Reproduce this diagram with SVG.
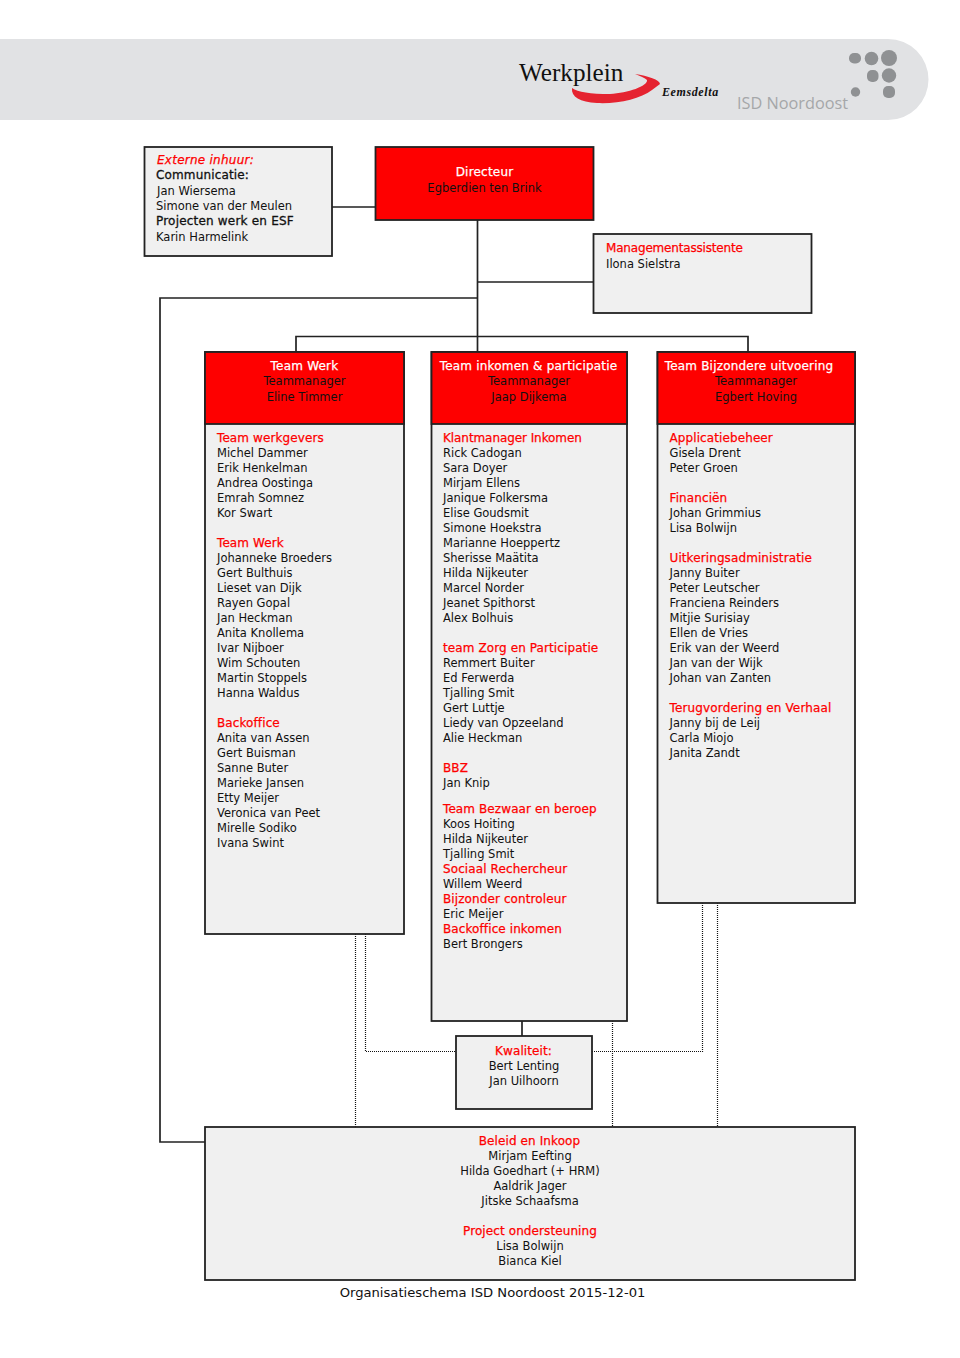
<svg xmlns="http://www.w3.org/2000/svg" width="960" height="1358" viewBox="0 0 960 1358">
<style>
text{font-family:"DejaVu Sans",sans-serif;font-size:11.500px;fill:#111}
.b{fill:#f0f0f0;stroke:#222;stroke-width:1.800}
.r{fill:#fe0000;stroke:#222;stroke-width:1.800}
.h{fill:#fe0000;font-size:12px;letter-spacing:.1px;stroke:#fe0000;stroke-width:.25}
.w{fill:#fff;font-size:12px;letter-spacing:.2px;stroke:#fff;stroke-width:.25}
.k{fill:#111;font-size:12px;letter-spacing:.15px;stroke:#111;stroke-width:.3}
.c{text-anchor:middle}
.l{fill:none;stroke:#222;stroke-width:1.700}
.d{fill:none;stroke:#111;stroke-width:1.200;stroke-dasharray:1 1}
.dot{fill:#8f9193}
</style>
<g id="header">
<path d="M0 39H888a40.500 40.500 0 0 1 0 81H0Z" fill="#e1e2e4"/>
<text x="519" y="81" style="font-family:'Liberation Serif',serif;font-size:25.200px">Werkplein</text>
<path d="M635 74C648 76 660 80 660 84L652 90C640 99 618 104 597 103C580 102 571 97 572 88C578 92 590 94 610 94C628 93 648 86 647 80C645 78 640 76 635 74Z" fill="#e52330"/>
<text x="662" y="96" style="font-family:'Liberation Serif',serif;font-size:12px;font-weight:bold;font-style:italic;letter-spacing:.6px">Eemsdelta</text>
<text x="737" y="109" style="font-family:'Open Sans',sans-serif;font-size:16.300px;fill:#a5a7a9">ISD Noordoost</text>
<rect class="dot" x="849" y="53" width="12" height="10.500" rx="5"/>
<circle class="dot" cx="871.500" cy="58.500" r="6.800"/>
<circle class="dot" cx="889" cy="58" r="8"/>
<rect class="dot" x="867" y="70" width="11.500" height="12" rx="5"/>
<circle class="dot" cx="889" cy="75.500" r="7.200"/>
<circle class="dot" cx="855.500" cy="92" r="4.700"/>
<rect class="dot" x="883" y="86" width="12" height="12" rx="5"/>
</g>
<g id="connectors">
<path class="l" d="M332 207H375M477.500 220V352M477.500 282H593M477.500 298H160V1142H205M296 352V336.500H748V352M522 1021V1036"/>
<path class="d" d="M355.500 934V1127M365.500 934V1051.500H456M592 1051.500H702.500V903M612.500 1021V1127M717.500 903V1127"/>
</g>
<g id="extern">
<rect class="b" x="144.500" y="147" width="187.500" height="109"/>
<text x="157" y="164" style="fill:#fe0000;font-size:12px;font-style:italic;letter-spacing:.25px;stroke:#fe0000;stroke-width:.25">Externe inhuur:</text>
<text x="156" y="179" class="k">Communicatie:</text>
<text x="157" y="195">Jan Wiersema</text>
<text x="156" y="210">Simone van der Meulen</text>
<text x="156" y="225" class="k" style="letter-spacing:.2px">Projecten werk en ESF</text>
<text x="156" y="241">Karin Harmelink</text>
</g>
<g id="directeur">
<rect class="r" x="375.500" y="147" width="218" height="73"/>
<text x="484.500" y="176" class="w c">Directeur</text>
<text x="484.500" y="192" class="c">Egberdien ten Brink</text>
</g>
<g id="assistent">
<rect class="b" x="593.500" y="234" width="218" height="79"/>
<text x="606" y="252" class="h" textLength="137">Managementassistente</text>
<text x="606" y="268">Ilona Sielstra</text>
</g>
<g id="team-werk">
<rect class="b" x="205" y="352" width="199" height="582"/>
<rect class="r" x="205" y="352" width="199" height="72"/>
<text x="304.500" y="370" class="w c">Team Werk</text>
<text x="304.500" y="385" class="c">Teammanager</text>
<text x="304.500" y="401" class="c">Eline Timmer</text>
<text x="217" y="442" class="h">Team werkgevers</text>
<text x="217" y="457">Michel Dammer</text>
<text x="217" y="472">Erik Henkelman</text>
<text x="217" y="487">Andrea Oostinga</text>
<text x="217" y="502">Emrah Somnez</text>
<text x="217" y="517">Kor Swart</text>
<text x="217" y="547" class="h">Team Werk</text>
<text x="217" y="562">Johanneke Broeders</text>
<text x="217" y="577">Gert Bulthuis</text>
<text x="217" y="592">Lieset van Dijk</text>
<text x="217" y="607">Rayen Gopal</text>
<text x="217" y="622">Jan Heckman</text>
<text x="217" y="637">Anita Knollema</text>
<text x="217" y="652">Ivar Nijboer</text>
<text x="217" y="667">Wim Schouten</text>
<text x="217" y="682">Martin Stoppels</text>
<text x="217" y="697">Hanna Waldus</text>
<text x="217" y="727" class="h">Backoffice</text>
<text x="217" y="742">Anita van Assen</text>
<text x="217" y="757">Gert Buisman</text>
<text x="217" y="772">Sanne Buter</text>
<text x="217" y="787">Marieke Jansen</text>
<text x="217" y="802">Etty Meijer</text>
<text x="217" y="817">Veronica van Peet</text>
<text x="217" y="832">Mirelle Sodiko</text>
<text x="217" y="847">Ivana Swint</text>
</g>
<g id="team-inkomen">
<rect class="b" x="431.500" y="352" width="195.500" height="669"/>
<rect class="r" x="431.500" y="352" width="195.500" height="72"/>
<text x="528.500" y="370" class="w c">Team inkomen &amp; participatie</text>
<text x="529" y="385" class="c">Teammanager</text>
<text x="529" y="401" class="c">Jaap Dijkema</text>
<text x="443" y="442" class="h" textLength="139">Klantmanager Inkomen</text>
<text x="443" y="457">Rick Cadogan</text>
<text x="443" y="472">Sara Doyer</text>
<text x="443" y="487">Mirjam Ellens</text>
<text x="443" y="502">Janique Folkersma</text>
<text x="443" y="517">Elise Goudsmit</text>
<text x="443" y="532">Simone Hoekstra</text>
<text x="443" y="547">Marianne Hoeppertz</text>
<text x="443" y="562">Sherisse Maätita</text>
<text x="443" y="577">Hilda Nijkeuter</text>
<text x="443" y="592">Marcel Norder</text>
<text x="443" y="607">Jeanet Spithorst</text>
<text x="443" y="622">Alex Bolhuis</text>
<text x="443" y="652" class="h">team Zorg en Participatie</text>
<text x="443" y="667">Remmert Buiter</text>
<text x="443" y="682">Ed Ferwerda</text>
<text x="443" y="697">Tjalling Smit</text>
<text x="443" y="712">Gert Luttje</text>
<text x="443" y="727">Liedy van Opzeeland</text>
<text x="443" y="742">Alie Heckman</text>
<text x="443" y="772" class="h">BBZ</text>
<text x="443" y="787">Jan Knip</text>
<text x="443" y="813" class="h">Team Bezwaar en beroep</text>
<text x="443" y="828">Koos Hoiting</text>
<text x="443" y="843">Hilda Nijkeuter</text>
<text x="443" y="858">Tjalling Smit</text>
<text x="443" y="873" class="h">Sociaal Rechercheur</text>
<text x="443" y="888">Willem Weerd</text>
<text x="443" y="903" class="h">Bijzonder controleur</text>
<text x="443" y="918">Eric Meijer</text>
<text x="443" y="933" class="h">Backoffice inkomen</text>
<text x="443" y="948">Bert Brongers</text>
</g>
<g id="team-bijzonder">
<rect class="b" x="657.500" y="352" width="197.500" height="551"/>
<rect class="r" x="657.500" y="352" width="197.500" height="72"/>
<text x="749" y="370" class="w c">Team Bijzondere uitvoering</text>
<text x="756" y="385" class="c">Teammanager</text>
<text x="756" y="401" class="c">Egbert Hoving</text>
<text x="669.500" y="442" class="h">Applicatiebeheer</text>
<text x="669.500" y="457">Gisela Drent</text>
<text x="669.500" y="472">Peter Groen</text>
<text x="669.500" y="502" class="h">Financiën</text>
<text x="669.500" y="517">Johan Grimmius</text>
<text x="669.500" y="532">Lisa Bolwijn</text>
<text x="669.500" y="562" class="h">Uitkeringsadministratie</text>
<text x="669.500" y="577">Janny Buiter</text>
<text x="669.500" y="592">Peter Leutscher</text>
<text x="669.500" y="607">Franciena Reinders</text>
<text x="669.500" y="622">Mitjie Surisiay</text>
<text x="669.500" y="637">Ellen de Vries</text>
<text x="669.500" y="652">Erik van der Weerd</text>
<text x="669.500" y="667">Jan van der Wijk</text>
<text x="669.500" y="682">Johan van Zanten</text>
<text x="669.500" y="712" class="h" textLength="162">Terugvordering en Verhaal</text>
<text x="669.500" y="727">Janny bij de Leij</text>
<text x="669.500" y="742">Carla Miojo</text>
<text x="669.500" y="757">Janita Zandt</text>
</g>
<g id="kwaliteit">
<rect class="b" x="456" y="1036" width="136" height="73"/>
<text x="523.500" y="1054.500" class="h c">Kwaliteit:</text>
<text x="524" y="1070" class="c">Bert Lenting</text>
<text x="524" y="1085" class="c">Jan Uilhoorn</text>
</g>
<g id="beleid">
<rect class="b" x="205" y="1127" width="650" height="153"/>
<text x="529.500" y="1145" class="h c">Beleid en Inkoop</text>
<text x="530" y="1160" class="c">Mirjam Eefting</text>
<text x="530" y="1175" class="c">Hilda Goedhart (+ HRM)</text>
<text x="530" y="1190" class="c">Aaldrik Jager</text>
<text x="530" y="1205" class="c">Jitske Schaafsma</text>
<text x="530" y="1235" class="h c">Project ondersteuning</text>
<text x="530" y="1250" class="c">Lisa Bolwijn</text>
<text x="530" y="1265" class="c">Bianca Kiel</text>
</g>
<text id="caption" x="492.500" y="1297" class="c" style="font-size:13.150px">Organisatieschema ISD Noordoost 2015-12-01</text>
</svg>
